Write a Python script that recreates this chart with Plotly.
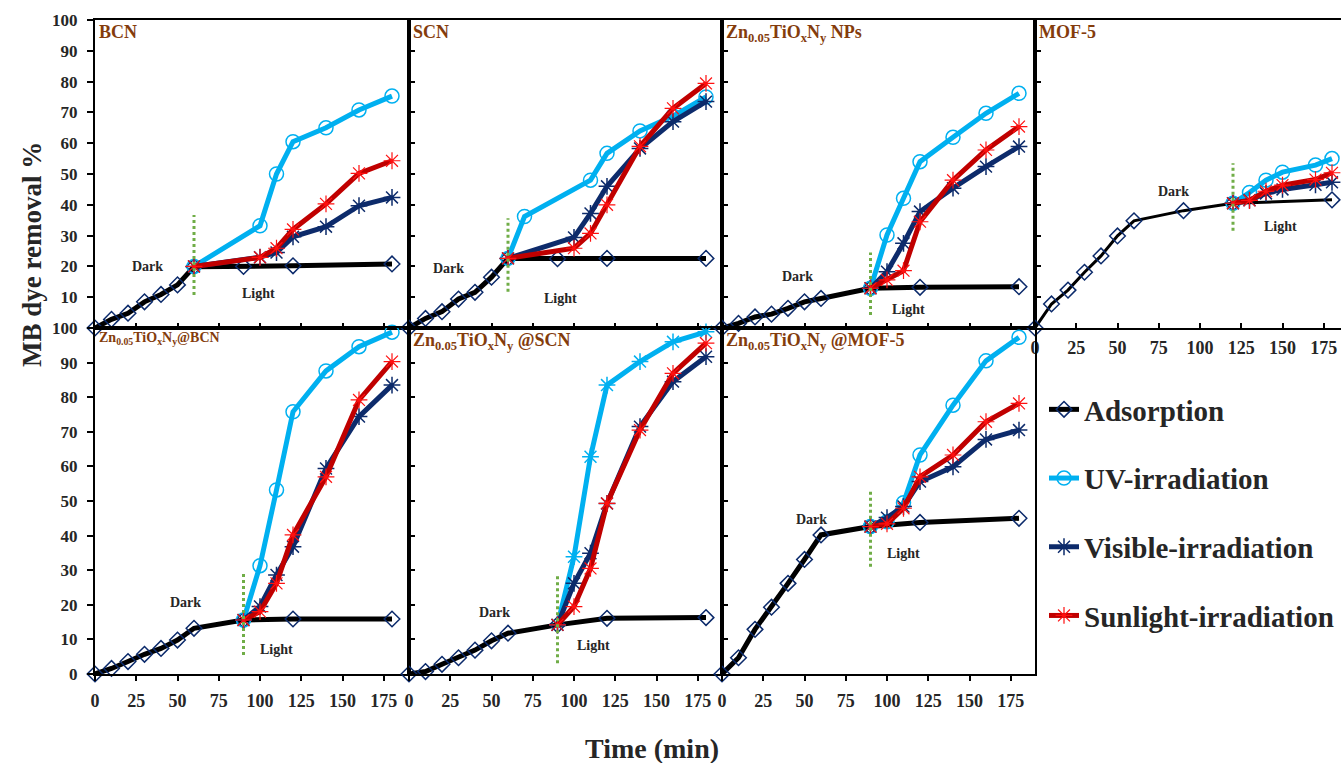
import plotly.graph_objects as go

FONT = "Liberation Serif, Times New Roman, serif"
W, H = 1341, 763

# ---------------- data ----------------
t_adsorption = [0, 10, 20, 30, 40, 50, 60, 90, 120, 180]
t_light_60 = [60, 100, 110, 120, 140, 160, 180]
t_light_scn_uv = [60, 70, 110, 120, 140, 160, 180]
t_light_90 = [90, 100, 110, 120, 140, 160, 180]
t_light_mof = [120, 130, 140, 150, 170, 180]

# BCN
bcn_ads = [0, 2.8, 4.8, 8.5, 10.9, 14.0, 19.9, 20.0, 20.2, 20.8]
bcn_uv = [20, 33.2, 50.0, 60.5, 65.0, 70.8, 75.3]
bcn_vis = [20, 23.0, 24.5, 29.6, 32.9, 39.7, 42.4]
bcn_sun = [20, 22.9, 25.9, 32.0, 40.3, 50.2, 54.3]
# SCN
scn_ads = [0, 3.1, 5.3, 9.4, 11.6, 16.5, 22.6, 22.5, 22.6, 22.6]
scn_uv = [22.6, 36.2, 48.0, 56.7, 64.0, 68.8, 75.0]
scn_vis = [22.6, 29.4, 37.2, 46.0, 58.3, 67.0, 73.5]
scn_sun = [22.6, 25.9, 30.7, 40.0, 59.0, 71.3, 79.4]
# Zn0.05TiOxNy NPs
np_ads = [0, 1.5, 3.6, 4.5, 6.4, 8.5, 9.6, 12.9, 13.2, 13.4]
np_uv = [12.9, 30.2, 42.1, 54.0, 61.9, 69.7, 76.2]
np_vis = [12.9, 18.3, 27.5, 37.8, 45.4, 52.4, 58.9]
np_sun = [12.9, 15.6, 18.6, 34.5, 48.0, 57.8, 65.4]
# MOF-5
mof_ads = [0, 7.8, 12.3, 18.1, 23.4, 29.9, 34.8, 38.1, 40.5, 41.6]
mof_uv = [40.5, 44.0, 48.0, 50.6, 52.9, 55.0]
mof_vis = [40.5, 41.5, 43.7, 45.0, 46.5, 47.3]
mof_sun = [40.5, 41.4, 44.4, 46.4, 48.2, 50.4]
# Zn0.05TiOxNy@BCN
znbcn_ads = [0, 1.6, 3.6, 5.7, 7.4, 9.8, 13.2, 15.6, 15.9, 15.9]
znbcn_uv = [15.6, 31.3, 53.2, 75.8, 87.6, 94.6, 98.8]
znbcn_vis = [15.6, 19.5, 28.6, 36.8, 59.4, 74.4, 83.5]
znbcn_sun = [15.6, 18.0, 26.2, 40.2, 57.0, 79.2, 90.3]
# Zn0.05TiOxNy@SCN
znscn_ads = [0, 0.7, 2.8, 4.7, 6.9, 9.6, 11.8, 14.2, 16.1, 16.3]
znscn_uv = [14.2, 33.9, 62.8, 83.5, 90.3, 96.0, 98.9]
znscn_vis = [14.2, 26.2, 34.9, 49.3, 71.5, 84.5, 91.7]
znscn_sun = [14.2, 19.5, 30.5, 49.3, 70.5, 86.9, 95.6]
# Zn0.05TiOxNy@MOF-5
znmof_ads = [0, 4.7, 12.9, 19.3, 26.2, 33.1, 40.2, 42.6, 43.8, 45.0]
znmof_uv = [42.6, 44.0, 49.5, 63.3, 77.7, 90.5, 97.3]
znmof_vis = [42.6, 45.2, 48.4, 55.6, 59.9, 67.8, 70.5]
znmof_sun = [42.6, 43.4, 47.9, 57.0, 63.3, 72.9, 78.2]

panel_titles = [
    "BCN",
    "SCN",
    "Zn<sub>0.05</sub>TiO<sub>x</sub>N<sub>y</sub> NPs",
    "MOF-5",
    "Zn<sub>0.05</sub>TiO<sub>x</sub>N<sub>y</sub>@BCN",
    "Zn<sub>0.05</sub>TiO<sub>x</sub>N<sub>y</sub> @SCN",
    "Zn<sub>0.05</sub>TiO<sub>x</sub>N<sub>y</sub> @MOF-5",
]
# (t, value) positions of the "Dark" / "Light" labels
dark_pos = [(32, 20), (24, 19.4), (46, 16.7), (84, 44.3), (55, 20.7), (52, 17.8), (54, 44.7)]
light_pos = [(99, 11.3), (92, 9.6), (113, 6.1), (149, 32.9), (110, 7.1), (112, 8.1), (110, 34.9)]
# extent of the dotted light-on divider (values)
divider_span = [(10.7, 36.7), (11.8, 35.6), (4.2, 24.5), (31.6, 53.5), (5.5, 29.3), (3.1, 28.9), (31.0, 52.7)]

legend_names = ["Adsorption", "UV-irradiation", "Visible-irradiation", "Sunlight-irradiation"]
x_ticks = [0, 25, 50, 75, 100, 125, 150, 175]
y_ticks = [0, 10, 20, 30, 40, 50, 60, 70, 80, 90, 100]

panels = [
    dict(ads=bcn_ads, uv=bcn_uv, vis=bcn_vis, sun=bcn_sun, tuv=t_light_60, tl=t_light_60),
    dict(ads=scn_ads, uv=scn_uv, vis=scn_vis, sun=scn_sun, tuv=t_light_scn_uv, tl=t_light_60),
    dict(ads=np_ads, uv=np_uv, vis=np_vis, sun=np_sun, tuv=t_light_90, tl=t_light_90),
    dict(ads=mof_ads, uv=mof_uv, vis=mof_vis, sun=mof_sun, tuv=t_light_mof, tl=t_light_mof),
    dict(ads=znbcn_ads, uv=znbcn_uv, vis=znbcn_vis, sun=znbcn_sun, tuv=t_light_90, tl=t_light_90),
    dict(ads=znscn_ads, uv=znscn_uv, vis=znscn_vis, sun=znscn_sun, tuv=t_light_90, tl=t_light_90),
    dict(ads=znmof_ads, uv=znmof_uv, vis=znmof_vis, sun=znmof_sun, tuv=t_light_90, tl=t_light_90),
]

# ---------------- styling / layout ----------------
C_ADS_LINE = "#000000"
C_ADS_MK = "#0B2A6B"
C_UV = "#00B0F0"
C_VIS = "#0D2B6B"
C_SUN_LINE = "#C00000"
C_SUN_MK = "#FF1010"
C_GREEN = "#70AD47"
C_TITLE = "#843C0C"
C_TEXT = "#262626"

col_px = [(95, 409), (409, 722), (722, 1035), (1035, 1341)]
row_px = [(20, 328), (328, 674)]
cells = [(0, 0), (0, 1), (0, 2), (0, 3), (1, 0), (1, 1), (1, 2)]


def xd(a, b):
    return [a / W, b / W]


def yd(top, bot):
    return [1 - bot / H, 1 - top / H]


fig = go.Figure()
layout = dict(
    width=W, height=H, margin=dict(l=0, r=0, t=0, b=0, pad=0, autoexpand=False),
    paper_bgcolor="white", plot_bgcolor="white",
    showlegend=True,
    legend=dict(x=1044 / W, y=1 - 384 / H, xanchor="left", yanchor="top",
                font=dict(family=FONT, size=29, color=C_TEXT, weight="bold"),
                tracegroupgap=28, bgcolor="rgba(0,0,0,0)", itemwidth=30),
)
annotations = []
shapes = []

for i, (p, (r, c)) in enumerate(zip(panels, cells)):
    n = i + 1
    xa = "x" if n == 1 else f"x{n}"
    ya = "y" if n == 1 else f"y{n}"
    xkey = "xaxis" if n == 1 else f"xaxis{n}"
    ykey = "yaxis" if n == 1 else f"yaxis{n}"
    x0, x1 = col_px[c]
    top, bot = row_px[r]
    xmax = 190 * (x1 - x0) / 313.5
    bottom_row = r == 1
    show_xlab = bottom_row or c == 3
    layout[xkey] = dict(
        domain=xd(x0, x1), anchor=ya, range=[0, xmax],
        tickvals=x_ticks, showticklabels=show_xlab,
        ticks="outside" if bottom_row else "inside", ticklen=5, tickwidth=1.5, tickcolor="black",
        showline=True, linewidth=2, linecolor="black", mirror=True,
        showgrid=False, zeroline=False, automargin=False,
        tickfont=dict(family=FONT, size=18, color=C_TEXT, weight="bold"),
        ticklabelstandoff=4 if bottom_row else 2,
    )
    yt = y_ticks if r == 1 else y_ticks[1:]
    layout[ykey] = dict(
        domain=yd(top, bot), anchor=xa, range=[0, 100],
        tickvals=yt, showticklabels=(c == 0),
        ticks="outside" if c == 0 else "inside", ticklen=6, tickwidth=1.5, tickcolor="black",
        showline=True, linewidth=2, linecolor="black", mirror=(c != 3),
        showgrid=False, zeroline=False, automargin=False,
        tickfont=dict(family=FONT, size=17, color=C_TEXT, weight="bold"),
        ticklabelstandoff=6,
    )

    ads_w = 3 if n == 4 else 5
    leg = n == 1
    fig.add_trace(go.Scatter(
        x=t_adsorption, y=p["ads"], xaxis=xa, yaxis=ya, mode="lines+markers",
        name=legend_names[0], legendgroup="ads", showlegend=leg, cliponaxis=False,
        line=dict(color=C_ADS_LINE, width=ads_w),
        marker=dict(symbol="diamond-open", size=12, color=C_ADS_MK, line=dict(width=1.5, color=C_ADS_MK))))
    uv_sym = "asterisk-open" if n == 6 else "circle-open"
    fig.add_trace(go.Scatter(
        x=p["tuv"], y=p["uv"], xaxis=xa, yaxis=ya, mode="lines+markers",
        name=legend_names[1], legendgroup="uv", showlegend=leg, cliponaxis=False,
        line=dict(color=C_UV, width=5),
        marker=dict(symbol=uv_sym, size=14, color=C_UV, line=dict(width=1.5, color=C_UV))))
    fig.add_trace(go.Scatter(
        x=p["tl"], y=p["vis"], xaxis=xa, yaxis=ya, mode="lines+markers",
        name=legend_names[2], legendgroup="vis", showlegend=leg, cliponaxis=False,
        line=dict(color=C_VIS, width=5),
        marker=dict(symbol="asterisk-open", size=14, color=C_VIS, line=dict(width=1.5, color=C_VIS))))
    fig.add_trace(go.Scatter(
        x=p["tl"], y=p["sun"], xaxis=xa, yaxis=ya, mode="lines+markers",
        name=legend_names[3], legendgroup="sun", showlegend=leg, cliponaxis=False,
        line=dict(color=C_SUN_LINE, width=5),
        marker=dict(symbol="asterisk-open", size=14, color=C_SUN_MK, line=dict(width=1.2, color=C_SUN_MK))))

    # light-on divider
    t_on = p["tl"][0]
    v0, v1 = divider_span[i]
    shapes.append(dict(type="line", xref=xa, yref=ya, x0=t_on, x1=t_on, y0=v0, y1=v1,
                       line=dict(color=C_GREEN, width=3, dash="dot")))

    # Dark / Light labels
    for txt, (tx, ty) in (("Dark", dark_pos[i]), ("Light", light_pos[i])):
        annotations.append(dict(x=tx, y=ty, xref=xa, yref=ya, text=f"<b>{txt}</b>",
                                showarrow=False, font=dict(family=FONT, size=14, color=C_TEXT)))

    # panel title
    tsize = 14 if n == 5 else 18
    annotations.append(dict(x=0, y=1, xref=f"{xa} domain", yref=f"{ya} domain",
                            xanchor="left", yanchor="top", xshift=2, yshift=0,
                            text=f"<b>{panel_titles[i]}</b>", showarrow=False,
                            font=dict(family=FONT, size=tsize, color=C_TITLE)))

# axis titles
annotations.append(dict(x=652 / W, y=1 - 748 / H, xref="paper", yref="paper",
                        xanchor="center", yanchor="middle",
                        text="<b>Time (min)</b>", showarrow=False,
                        font=dict(family=FONT, size=28, color=C_TEXT)))
annotations.append(dict(x=32 / W, y=1 - 255 / H, xref="paper", yref="paper",
                        xanchor="center", yanchor="middle",
                        text="<b>MB dye removal %</b>", showarrow=False, textangle=-90,
                        font=dict(family=FONT, size=27, color=C_TEXT)))

layout["annotations"] = annotations
layout["shapes"] = shapes
fig.update_layout(**layout)
fig.write_html(
    "out.html",
    config={"displayModeBar": False},
    post_script="document.body.style.margin='0px';document.body.style.padding='0px';"
                "document.body.style.overflow='hidden';",
)
